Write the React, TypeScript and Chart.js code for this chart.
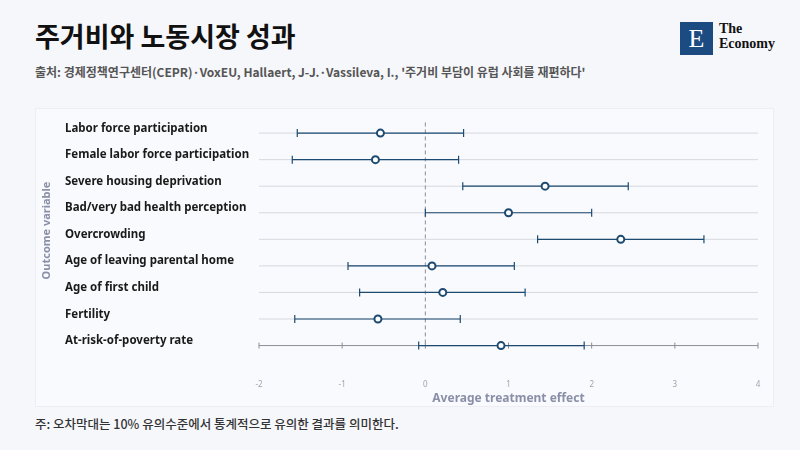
import React, { useEffect, useRef } from "react";
import { Chart, registerables } from "chart.js";
Chart.register(...registerables);

const categories = [
  "Labor force participation",
  "Female labor force participation",
  "Severe housing deprivation",
  "Bad/very bad health perception",
  "Overcrowding",
  "Age of leaving parental home",
  "Age of first child",
  "Fertility",
  "At-risk-of-poverty rate",
];
const estimates = [-0.54, -0.6, 1.44, 1.0, 2.35, 0.08, 0.21, -0.57, 0.91];
const lower = [-1.54, -1.6, 0.45, 0.0, 1.35, -0.93, -0.79, -1.57, -0.08];
const upper = [0.46, 0.4, 2.44, 2.0, 3.35, 1.07, 1.2, 0.42, 1.91];
const xTicks = [-2, -1, 0, 1, 2, 3, 4];

const NAVY = "#1d4a70";
const FONT = "'Noto Sans', 'Noto Sans CJK KR', sans-serif";

const forestPlugin = {
  id: "forest",
  beforeDatasetsDraw(chart: any) {
    const { ctx, chartArea, scales } = chart;
    const x = scales.x, y = scales.y;
    ctx.save();
    categories.forEach((c, i) => {
      const py = y.getPixelForValue(i + 1);
      ctx.strokeStyle = i === categories.length - 1 ? "#8a8d99" : "#d6d8df";
      ctx.lineWidth = 1;
      ctx.beginPath();
      ctx.moveTo(chartArea.left, py);
      ctx.lineTo(chartArea.right, py);
      ctx.stroke();
      ctx.fillStyle = "#1a1a1a";
      ctx.font = `bold 11.5px ${FONT}`;
      ctx.textAlign = "left";
      ctx.textBaseline = "bottom";
      ctx.fillText(c, chartArea.left - 194, py + 1);
    });
    const lastY = y.getPixelForValue(categories.length);
    ctx.strokeStyle = "#8a8d99";
    xTicks.forEach((t) => {
      const px = x.getPixelForValue(t);
      ctx.beginPath();
      ctx.moveTo(px, lastY - 3);
      ctx.lineTo(px, lastY + 3);
      ctx.stroke();
    });
    const zx = x.getPixelForValue(0);
    ctx.setLineDash([4, 3]);
    ctx.strokeStyle = "#8a8d99";
    ctx.beginPath();
    ctx.moveTo(zx, y.getPixelForValue(0.6));
    ctx.lineTo(zx, lastY);
    ctx.stroke();
    ctx.setLineDash([]);
    ctx.strokeStyle = NAVY;
    ctx.lineWidth = 1.2;
    categories.forEach((c, i) => {
      const py = y.getPixelForValue(i + 1);
      const l = x.getPixelForValue(lower[i]);
      const u = x.getPixelForValue(upper[i]);
      ctx.beginPath();
      ctx.moveTo(l, py); ctx.lineTo(u, py);
      ctx.moveTo(l, py - 4); ctx.lineTo(l, py + 4);
      ctx.moveTo(u, py - 4); ctx.lineTo(u, py + 4);
      ctx.stroke();
    });
    ctx.translate(chartArea.left - 212, (chartArea.top + chartArea.bottom) / 2 - 12);
    ctx.rotate(-Math.PI / 2);
    ctx.fillStyle = "#8a8fa8";
    ctx.font = `bold 11px ${FONT}`;
    ctx.textAlign = "center";
    ctx.textBaseline = "middle";
    ctx.fillText("Outcome variable", 0, 0);
    ctx.restore();
  },
};

export default function App() {
  const ref = useRef<HTMLCanvasElement>(null);
  useEffect(() => {
    const chart = new Chart(ref.current!, {
      type: "scatter",
      data: {
        datasets: [
          {
            data: estimates.map((v, i) => ({ x: v, y: i + 1 })),
            backgroundColor: "#ffffff",
            borderColor: NAVY,
            borderWidth: 2,
            pointRadius: 3.5,
          },
        ],
      },
      options: {
        animation: false,
        responsive: false,
        layout: { padding: { left: 223, right: 15, top: 0, bottom: 0 } },
        plugins: { legend: { display: false }, tooltip: { enabled: false } },
        scales: {
          x: {
            type: "linear",
            min: -2,
            max: 4,
            afterBuildTicks: (s: any) => { s.ticks = xTicks.map((v) => ({ value: v })); },
            grid: { display: false },
            border: { display: false },
            ticks: { color: "#a0a3b0", font: { size: 8, family: FONT }, padding: 2 },
            title: {
              display: true,
              text: "Average treatment effect",
              color: "#8a8fa8",
              font: { size: 12, weight: "bold", family: FONT },
              padding: { top: 0, bottom: 0 },
            },
          },
          y: { display: false, min: 0.32, max: 9.92, reverse: true },
        },
      },
      plugins: [forestPlugin],
    });
    return () => chart.destroy();
  }, []);

  return (
    <div style={{ position: "absolute", left: 0, top: 0, width: 800, height: 450, background: "#f6f7fb", fontFamily: FONT, overflow: "hidden" }}>
      <div style={{ position: "absolute", left: 35, top: 16, fontSize: 27, fontWeight: 700, color: "#111", fontFamily: "'Noto Sans CJK KR', sans-serif" }}>
        주거비와 노동시장 성과
      </div>
      <div style={{ position: "absolute", left: 35, top: 63, fontSize: 12, fontWeight: 700, color: "#555", fontFamily: "'Noto Sans CJK KR', sans-serif" }}>
        출처: 경제정책연구센터(CEPR)·VoxEU, Hallaert, J-J.·Vassileva, I., '주거비 부담이 유럽 사회를 재편하다'
      </div>
      <div style={{ position: "absolute", left: 680, top: 22, width: 33, height: 33, background: "#1c4b82", color: "#fff", fontFamily: "'Liberation Serif', serif", fontSize: 26, lineHeight: "33px", textAlign: "center" }}>E</div>
      <div style={{ position: "absolute", left: 719, top: 21, fontFamily: "'Liberation Serif', serif", fontSize: 14, fontWeight: 700, lineHeight: "15px", color: "#111" }}>
        The<br />Economy
      </div>
      <div style={{ position: "absolute", left: 35, top: 108, width: 737, height: 297, background: "#f9fafd", border: "1px solid #eceef3" }}>
        <canvas ref={ref} width={737} height={297} style={{ display: "block" }} />
      </div>
      <div style={{ position: "absolute", left: 35, top: 414, fontSize: 12.5, fontWeight: 500, color: "#333", fontFamily: "'Noto Sans CJK KR', sans-serif" }}>
        주: 오차막대는 10% 유의수준에서 통계적으로 유의한 결과를 의미한다.
      </div>
    </div>
  );
}
